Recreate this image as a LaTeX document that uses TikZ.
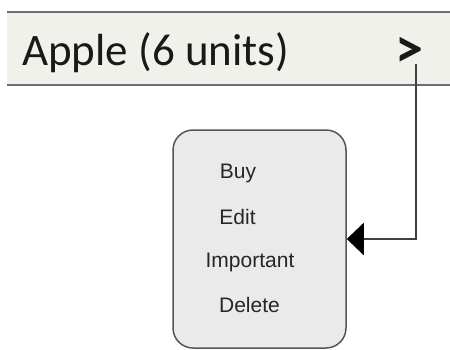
\documentclass[tikz,border=0pt]{standalone}
\usepackage{fontspec}
\setmainfont{Liberation Sans}
\newfontfamily\barfont{Carlito}
\usetikzlibrary{arrows.meta}

\definecolor{barfill}{HTML}{EFF1EA}
\definecolor{barline}{HTML}{6E6E6E}
\definecolor{menufill}{HTML}{EAEAEA}
\definecolor{menuline}{HTML}{555555}

\tikzset{
  itemtext/.style={font=\fontsize{21}{24}\selectfont, inner sep=0pt, text=black!85},
  bartext/.style={font=\barfont\fontsize{45}{50}\selectfont, inner sep=0pt, text=black!90}
}

\begin{document}
\begin{tikzpicture}[x=1pt, y=-1pt]
\useasboundingbox (0,0) rectangle (450,349);

% the item bar
\fill [barfill] (7,12) rectangle (450,85);
\draw [barline, line width=2.5pt] (7,12) -- (450,12);
\draw [barline, line width=2.5pt] (7,85) -- (450,85);
\node [bartext, anchor=base west] (apple) at (22,65) {Apple (6 units)};
\node [bartext, font=\barfont\bfseries\fontsize{56}{60}\selectfont, anchor=base west] (gt) at (395,67) {>};

% the popup menu
\node [draw=menuline, fill=menufill, line width=1.5pt, rounded corners=20pt,
       minimum width=173pt, minimum height=218pt, inner sep=0pt] (menu) at (259.5,239) {};
\node [itemtext] (buy) at (238,173) {Buy};
\node [itemtext] (edit) at (237.5,217) {Edit};
\node [itemtext] (important) at (250,262) {Important};
\node [itemtext] (delete) at (249.5,305) {Delete};

\coordinate (drop) at (416,64);
\draw [black!75, line width=2pt, -{Triangle[length=17pt,width=32pt,black]}] (drop) |- (menu.east);
\end{tikzpicture}
\end{document}
